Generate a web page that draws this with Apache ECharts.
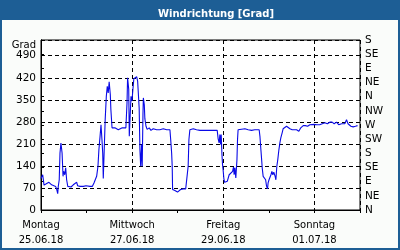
<!DOCTYPE html>
<html>
<head>
<meta charset="utf-8">
<script src="https://cdn.jsdelivr.net/npm/echarts@6/dist/echarts.min.js"></script>
<style>html,body{margin:0;padding:0;background:#fff}#c{width:400px;height:250px}</style>
</head>
<body>
<div id="c"></div>
<script>
// Hours since Montag 25.06.18 00:00
var hours = [0,0.9,1.6,3.0,4.2,5.6,6.5,7.7,8.3,8.8,9.1,9.6,10.0,10.5,11.1,11.6,11.9,12.5,13.0,13.5,14.1,14.9,15.8,17.0,17.9,18.8,19.3,20.5,22.3,23.7,24.6,25.8,27.0,27.9,28.8,29.3,30.0,30.5,31.1,31.6,32.1,32.5,32.8,33.3,33.8,34.4,34.9,35.4,35.9,36.5,36.8,37.4,38.1,38.9,39.8,40.7,41.6,42.8,43.7,44.7,45.3,45.6,46.2,46.5,47.0,47.4,47.9,48.4,48.9,49.5,50.4,50.9,51.2,51.7,52.1,52.5,53.0,53.3,53.7,53.9,54.4,54.7,55.3,55.9,57.0,57.9,59.1,60.9,62.6,64.4,66.2,67.9,68.3,68.8,69.1,69.3,69.6,70.5,71.4,71.9,72.6,73.5,74.9,76.2,77.0,77.5,77.9,78.4,80.2,81.9,83.7,87.2,90.7,92.8,93.3,93.8,94.2,94.6,94.9,95.3,95.6,95.9,96.3,96.7,97.4,98.1,98.9,99.1,100.0,100.9,101.4,101.7,102.1,102.6,103.2,103.5,103.8,104.7,107.4,109.1,110.9,112.6,114.9,115.3,115.8,116.2,116.5,117.0,117.5,117.9,118.3,118.8,119.3,119.6,120.1,120.5,121.1,121.6,122.1,122.6,123.3,123.7,124.2,124.7,125.3,125.8,126.3,127.0,127.5,128.4,129.3,130.2,131.1,132.3,133.3,134.6,135.8,136.8,138.1,139.2,140.4,141.6,142.5,143.8,145.3,146.8,148.1,149.5,150.8,152.1,153.3,154.4,155.6,156.8,158.3,159.1,160.0,160.9,161.7,163.2,164.4,165.6,166.7];
// Wind direction in degrees
var windDir = [100,112,79,84,88,80,75,75,65,52,75,96,181,213,181,107,123,112,134,96,75,80,73,80,84,88,77,75,75,77,80,75,75,86,91,107,139,192,234,271,224,181,100,192,287,361,393,372,407,367,319,261,258,261,264,255,258,261,261,261,340,420,383,234,229,361,346,383,417,423,423,409,377,324,192,139,208,139,303,356,334,290,266,256,261,253,258,255,255,258,255,255,224,181,139,65,59,62,59,57,62,65,67,67,67,139,224,255,258,255,253,253,253,253,226,213,240,208,240,176,144,128,100,88,84,91,91,112,118,123,137,112,134,102,160,224,255,258,258,255,253,255,255,234,192,160,134,107,102,107,96,75,67,86,96,102,112,123,112,120,107,96,139,160,192,213,229,245,258,264,266,262,258,255,253,255,250,261,268,268,266,271,274,272,271,271,274,277,274,279,279,274,279,271,274,272,274,287,274,266,264,266,268];

var dayTickHours = [0,48,96,144];
var dayNames = ['Montag','Mittwoch','Freitag','Sonntag'];
var dayDates = ['25.06.18','27.06.18','29.06.18','01.07.18'];
var compassLabels = ['N','NE','E','SE','S','SW','W','NW','N','NE','E','SE','S'];
var leftTicks = [0,70,140,210,280,350,420,490];

var FONT = 'DejaVu Sans';
var blue = '#1d5e95';
var data = hours.map(function(h,i){return [h, windDir[i]];});

var chart = echarts.init(document.getElementById('c'), null, {renderer:'canvas'});
chart.setOption({
  animation:false,
  backgroundColor:'#fafcfa',
  title:{text:'Windrichtung [Grad]', left:153, top:4,
    textStyle:{color:'#fff', fontFamily:FONT, fontWeight:'bold', fontSize:10}},
  graphic:[
    {type:'rect', shape:{x:0,y:0,width:400,height:20}, style:{fill:blue}, z:-1},
    {type:'rect', shape:{x:1,y:1,width:398,height:248}, style:{fill:null, stroke:blue, lineWidth:2}, z:100}
  ],
  grid:{left:41, right:40, top:40, bottom:40, show:true, backgroundColor:'#fff', borderColor:'#000', borderWidth:1},
  xAxis:[{
    type:'value', min:0, max:168, interval:48,
    axisLine:{show:true, lineStyle:{color:'#000'}},
    axisTick:{show:false},
    splitLine:{show:true, lineStyle:{color:'#000', type:[4,3]}},
    axisLabel:{show:true, showMaxLabel:false, margin:8, lineHeight:15, color:'#000', fontFamily:FONT, fontSize:10,
      formatter:function(v){var i=dayTickHours.indexOf(v); return i<0?'':dayNames[i]+'\n'+dayDates[i];}}
  },{
    type:'value', min:0, max:168, interval:24, position:'bottom',
    axisLine:{show:false},
    axisTick:{show:true, length:3, lineStyle:{color:'#000'}},
    splitLine:{show:false},
    axisLabel:{show:false}
  }],
  yAxis:[{
    type:'value', min:0, max:540, interval:70,
    name:'Grad', nameLocation:'end', nameGap:-1,
    nameTextStyle:{color:'#000', fontFamily:FONT, fontSize:10, align:'right', verticalAlign:'top', padding:[2,5,0,0]},
    axisLine:{show:true, lineStyle:{color:'#000'}},
    axisTick:{show:false},
    splitLine:{show:true, lineStyle:{color:'#000', type:[4,3]}},
    axisLabel:{showMaxLabel:false, margin:5, color:'#000', fontFamily:FONT, fontSize:10.5,
      formatter:function(v){return leftTicks.indexOf(v)<0?'':String(v);}}
  },{
    type:'value', min:0, max:540, interval:45, position:'right',
    axisLine:{show:true, lineStyle:{color:'#000'}},
    axisTick:{show:true, length:3, lineStyle:{color:'#000'}},
    splitLine:{show:false},
    axisLabel:{margin:5, color:'#000', fontFamily:FONT, fontSize:10.5,
      formatter:function(v){return compassLabels[Math.round(v/45)]||'';}}
  }],
  series:[{
    type:'line', data:data, xAxisIndex:0, yAxisIndex:0,
    showSymbol:false, symbol:'none',
    lineStyle:{color:'#0a0ae6', width:1.1},
    z:5
  }]
});
</script>
</body>
</html>
